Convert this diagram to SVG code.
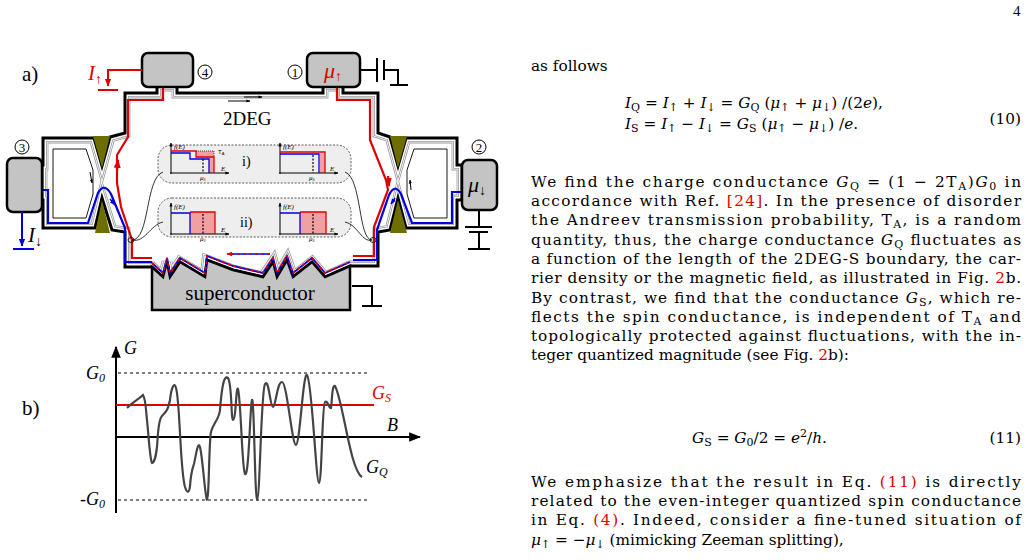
<svg xmlns="http://www.w3.org/2000/svg" width="1030" height="560" viewBox="0 0 1030 560">
<style>
.t{font-family:"Liberation Serif",serif;fill:#000}
.c{font-family:"DejaVu Serif","Liberation Serif",serif;font-size:15.3px;fill:#000}
.it{font-style:italic}
.r{fill:#e00000}
.box{fill:#c4c4c4;stroke:#000;stroke-width:2.5}
.gate{fill:#6e6e00}
.ins{fill:#eeeeee;stroke:#333;stroke-width:0.8;stroke-dasharray:2 1.5}
.ax{stroke:#000;stroke-width:1;fill:none}
.sm{font-family:"Liberation Serif",serif;font-size:7px;font-style:italic}
</style>
<defs>
<marker id="ah" viewBox="0 0 10 10" refX="9" refY="5" markerWidth="6" markerHeight="6" orient="auto"><path d="M0,1 L10,5 L0,9 z" fill="#000"/></marker>
<marker id="ahs" viewBox="0 0 10 10" refX="9" refY="5" markerWidth="4" markerHeight="4" orient="auto"><path d="M0,1 L10,5 L0,9 z" fill="#000"/></marker>
<marker id="ahr" viewBox="0 0 10 10" refX="9" refY="5" markerWidth="4" markerHeight="4" orient="auto"><path d="M0,1 L10,5 L0,9 z" fill="#e00000"/></marker>
<marker id="ahb" viewBox="0 0 10 10" refX="9" refY="5" markerWidth="4" markerHeight="4" orient="auto"><path d="M0,1 L10,5 L0,9 z" fill="#0000e0"/></marker>
<path id="reg" d="M125,93 H157 V86 H177 V93 H323 V86 H343 V93 H378 V133 L390,137 L398,166 L406,138 H457 V165 H462 V200 H457 V228 H406 L398,198 L390,230 L378,232 V266 H350 L325,277 L312,262 L293,277 L287,260 L277,277 L273,262 L263,277 L233,270 L207,260 L205,277 L180,262 L170,277 L167,262 L163,277 L152,267 H125 V232 L112,230 L102,198 L95,228 H43 V200 H42 V165 H43 V138 H94 L102,166 L110,137 L125,133 Z"/>
<path id="holes" d="M53,149 H86 L93,170 V194 L86,218 H53 Z M447,149 H414 L407,170 V194 L414,218 H447 Z"/>
<clipPath id="cl"><use href="#reg"/></clipPath>
</defs>
<text class="t" x="1013" y="16" font-size="15">4</text>

<g id="panelA">
<text class="t" x="22" y="81" font-size="21">a)</text>
<g id="twodeg">
<use href="#reg" fill="#fff"/>
<g clip-path="url(#cl)" fill="none">
<use href="#reg" stroke="#999" stroke-width="10.8"/>
<use href="#reg" stroke="#fff" stroke-width="9.2"/>
<use href="#reg" stroke="#999" stroke-width="7.6"/>
<use href="#reg" stroke="#fff" stroke-width="6"/>
</g>
<use href="#holes" fill="#fff" stroke="#000" stroke-width="0.9"/>
<use href="#reg" fill="none" stroke="#000" stroke-width="3"/>
<text class="t" x="223" y="125" font-size="19">2DEG</text>
</g>
<g id="superconductor">
<path class="box" d="M152,267 L163,277 L167,262 L170,277 L180,262 L205,277 L207,260 L233,270 L263,277 L273,262 L277,277 L287,260 L293,277 L312,262 L325,277 L350,266 V310 H152 Z"/>
<text class="t" x="250" y="300" font-size="21" text-anchor="middle">superconductor</text>
<path d="M352,286 H372 V306 M362,306 H382" stroke="#000" stroke-width="2" fill="none"/>
</g>
<g id="gates">
<polygon class="gate" points="93,136 110,136 102,168"/>
<polygon class="gate" points="95,233 110,233 102,200"/>
<polygon class="gate" points="390,136 407,136 398,168"/>
<polygon class="gate" points="390,233 407,233 398,200"/>
</g>
<g id="channels" fill="none" stroke-width="2.2">
<path d="M163,87 V100 H128 V137 L117,155 V183 L121,207 L132,240 V258 H152" stroke="#e00000"/>
<path d="M337,87 V100 H370 V140 L386,180 L388,190 L374,227 V256 H353" stroke="#e00000"/>
<path d="M42,190 H48 V223 H88 L98,193 Q104,182 111,194 L125,228 V262 H152" stroke="#0000e0"/>
<path d="M462,192 H452 V223 H412 L401,194 Q395,183 389,195 L377,230 V260 H353" stroke="#0000e0"/>
<path d="M117,170 L118,160" stroke="#e00000" marker-end="url(#ahr)"/>
<path d="M388,176 L389,186" stroke="#e00000" marker-end="url(#ahr)"/>
<path d="M110,199 L115,205" stroke="#0000e0" stroke-width="1.5" marker-end="url(#ahb)"/>
<path d="M395,198 L391,204" stroke="#0000e0" stroke-width="1.5" marker-end="url(#ahb)"/>
<path d="M152,263 L163,273 L167,258 L170,273 L180,258 L205,273 L207,256 L233,266 L263,273 L273,258 L277,273 L287,256 L293,273 L312,258 L325,273 L350,262" stroke="#0000e0" stroke-width="1.8"/>
<path d="M152,263 L163,273 L167,258 L170,273 L180,258 L205,273 L207,256 L233,266 L263,273 L273,258 L277,273 L287,256 L293,273 L312,258 L325,273 L350,262" stroke="#e00000" stroke-width="1.8" stroke-dasharray="3 3"/>
<path d="M270,254 H228" stroke="#0000e0" stroke-width="1.5"/>
<path d="M270,254 H227" stroke="#e00000" stroke-width="1.5" stroke-dasharray="3 3" marker-end="url(#ahr)"/>
</g>
<g id="smallarrows" stroke="#000" stroke-width="1" fill="none">
<path d="M228,101 H250" marker-end="url(#ahs)"/>
<path d="M244,97 H262" marker-end="url(#ahs)"/>
<path d="M90,172 L92,183" marker-end="url(#ahs)"/>
<path d="M411,190 L410,180" marker-end="url(#ahs)"/>
</g>
<g id="box4"><rect class="box" x="142" y="53" width="51" height="34" rx="6"/>
<circle cx="205" cy="72" r="7" fill="none" stroke="#000" stroke-width="1"/><text class="t" x="205" y="77" font-size="13" text-anchor="middle">4</text></g>
<g id="box1"><rect class="box" x="307" y="53" width="53" height="34" rx="6"/>
<circle cx="295" cy="72" r="7" fill="none" stroke="#000" stroke-width="1"/><text class="t" x="295" y="77" font-size="13" text-anchor="middle">1</text>
<text class="t it r" x="324" y="78" font-size="22">μ<tspan font-size="14" font-style="normal" dy="3">↑</tspan></text>
<path d="M360,70 H377 M377,58 V82 M384,60 V80 M384,70 H398 V85 M390,85 H408" stroke="#000" stroke-width="2" fill="none"/></g>
<g id="box3"><rect class="box" x="7" y="158" width="35" height="54" rx="6"/>
<circle cx="22" cy="147" r="7" fill="none" stroke="#000" stroke-width="1"/><text class="t" x="22" y="152" font-size="13" text-anchor="middle">3</text>
<path d="M22,212 V246" stroke="#0000e0" stroke-width="2" marker-end="url(#ahb)"/>
<path d="M13,249 H34" stroke="#0000e0" stroke-width="2"/>
<text class="t it" x="28" y="242" font-size="21" fill="#0000e0">I<tspan font-size="14" font-style="normal" dy="4">↓</tspan></text></g>
<g id="box2"><rect class="box" x="462" y="160" width="35" height="50" rx="6"/>
<circle cx="479" cy="147" r="7" fill="none" stroke="#000" stroke-width="1"/><text class="t" x="479" y="152" font-size="13" text-anchor="middle">2</text>
<text class="t it" x="468" y="192" font-size="22" fill="#0000e0">μ<tspan font-size="14" font-style="normal" dy="3">↓</tspan></text>
<path d="M479,210 V227 M465,227 H492 M469,232 H488 M479,232 V249 M468,249 H490" stroke="#000" stroke-width="2" fill="none"/></g>
<g id="Iup">
<path d="M142,70 H108 V86" stroke="#e00000" stroke-width="2" fill="none" marker-end="url(#ahr)"/>
<path d="M98,90 H118" stroke="#e00000" stroke-width="2"/>
<text class="t it r" x="88" y="80" font-size="21">I<tspan font-size="14" font-style="normal" dy="4">↑</tspan></text></g>
<g id="insets">
<rect class="ins" x="158" y="145" width="193" height="38" rx="14"/>
<rect class="ins" x="158" y="198" width="193" height="39" rx="14"/>
<text class="t" x="242" y="166" font-size="14">i)</text>
<text class="t" x="240" y="227" font-size="14">ii)</text>
<path d="M196,151 H214 V173 H209 V158 H196 Z" fill="#f0a0a0"/>
<path class="ax" d="M171,174 V143" marker-end="url(#ahs)"/><path class="ax" d="M170,173 H229" marker-end="url(#ahs)"/>
<path d="M171,151 H196 V157 H214 V173" stroke="#e00000" stroke-width="1.3" fill="none"/>
<path d="M171,153 H190 V159 H209 V173" stroke="#0000e0" stroke-width="1.3" fill="none"/>
<path d="M196,151 H214 V157" stroke="#000" stroke-width="0.7" stroke-dasharray="1 1" fill="none"/>
<path d="M203,159 V173" stroke="#000" stroke-width="1.2" stroke-dasharray="2 1.5"/>
<text class="sm" x="174" y="149">f(E)</text><text class="sm" x="221" y="171">E</text><text class="sm" x="200" y="180">μ<tspan font-size="4" dy="1">S</tspan></text>
<text font-family="Liberation Sans,sans-serif" font-size="6" x="218" y="154">T<tspan font-size="4" dy="1">A</tspan></text>
<path d="M320,153 H325 V173 H320 Z" fill="#f0a0a0"/>
<path class="ax" d="M280,174 V143" marker-end="url(#ahs)"/><path class="ax" d="M279,173 H338" marker-end="url(#ahs)"/>
<path d="M280,152 H325 V173" stroke="#e00000" stroke-width="1.3" fill="none"/>
<path d="M280,154 H319 V173" stroke="#0000e0" stroke-width="1.3" fill="none"/>
<path d="M313,155 V173" stroke="#000" stroke-width="1.2" stroke-dasharray="2 1.5"/>
<text class="sm" x="283" y="149">f(E)</text><text class="sm" x="330" y="171">E</text><text class="sm" x="309" y="180">μ<tspan font-size="4" dy="1">S</tspan></text>
<rect x="190" y="212" width="25" height="22" fill="#f0a0a0"/>
<path class="ax" d="M171,235 V203" marker-end="url(#ahs)"/><path class="ax" d="M170,234 H229" marker-end="url(#ahs)"/>
<path d="M190,212 H215 V234" stroke="#e00000" stroke-width="1.3" fill="none"/>
<path d="M171,213 H190 V234" stroke="#0000e0" stroke-width="1.3" fill="none"/>
<path d="M203,214 V234" stroke="#000" stroke-width="1.2" stroke-dasharray="2 1.5"/>
<text class="sm" x="174" y="209">f(E)</text><text class="sm" x="221" y="232">E</text><text class="sm" x="200" y="241">μ<tspan font-size="4" dy="1">S</tspan></text>
<rect x="300" y="212" width="26" height="22" fill="#f0a0a0"/>
<path class="ax" d="M280,235 V203" marker-end="url(#ahs)"/><path class="ax" d="M279,234 H338" marker-end="url(#ahs)"/>
<path d="M300,212 H326 V234" stroke="#e00000" stroke-width="1.3" fill="none"/>
<path d="M280,213 H300 V234" stroke="#0000e0" stroke-width="1.3" fill="none"/>
<path d="M313,214 V234" stroke="#000" stroke-width="1.2" stroke-dasharray="2 1.5"/>
<text class="sm" x="283" y="209">f(E)</text><text class="sm" x="330" y="232">E</text><text class="sm" x="309" y="241">μ<tspan font-size="4" dy="1">S</tspan></text>
</g>
<g id="leaders" fill="none" stroke="#000" stroke-width="0.8">
<path d="M163,172 C145,178 150,240 132,240"/>
<path d="M163,222 C150,225 145,243 132,240"/>
<ellipse cx="131" cy="240" rx="3" ry="2.5"/>
<path d="M345,172 C362,178 358,240 372,240"/>
<path d="M345,222 C358,225 362,243 372,240"/>
<ellipse cx="373" cy="240" rx="3" ry="2.5"/>
</g>
</g>

<g id="panelB">
<text class="t" x="22" y="415" font-size="21">b)</text>
<path d="M116,513 V347" stroke="#000" stroke-width="2" marker-end="url(#ah)"/>
<path d="M116,437 H420" stroke="#000" stroke-width="2" marker-end="url(#ah)"/>
<path d="M118,373 H370 M118,500 H370" stroke="#000" stroke-width="1" stroke-dasharray="3 3"/>
<path d="M116,405 H374" stroke="#e00000" stroke-width="2"/>
<path d="M127,408 C132,403 140,398 143,395 C146,400 146,412 147,420 C149,440 150,460 152,463 C155,462 156,455 157,447 C158,435 158,420 162,416 C166,412 168,410 170,400 C171,390 174,380 176,388 C180,400 180,470 185,487 C187,493 189,494 190,486 C191,472 192,470 194,464 C196,455 198,440 200,447 C203,460 205,497 207,500 C209,500 209,440 211,432 C213,423 219,420 220,410 C222,385 224,375 228,378 C232,383 231,420 233,420 C236,420 236,385 238,389 C241,400 242,470 245,474 C249,478 250,405 252,400 C254,395 255,500 257,500 C260,500 261,390 265,384 C269,378 270,407 273,407 C276,406 277,382 282,382 C287,382 292,445 296,445 C300,444 303,372 307,375 C312,380 316,483 319,483 C322,482 322,404 325,402 C328,400 329,409 331,408 C332,402 332,384 335,386 C343,400 350,470 362,477" fill="none" stroke="#444" stroke-width="2.2"/>
<text class="t it" x="124" y="354" font-size="18">G</text>
<text class="t it" x="86" y="379" font-size="18">G<tspan font-size="12" dy="3">0</tspan></text>
<text class="t it" x="80" y="505" font-size="18"><tspan font-style="normal">-</tspan>G<tspan font-size="12" dy="3">0</tspan></text>
<text class="t it r" x="372" y="399" font-size="18">G<tspan font-size="12" dy="3">S</tspan></text>
<text class="t it" x="387" y="431" font-size="18">B</text>
<text class="t it" x="366" y="473" font-size="18" fill="#555">G<tspan font-size="12" dy="3">Q</tspan></text>
</g>

<g id="textcol" class="c">
<text x="531" y="71">as follows</text>
<text x="625" y="108"><tspan class="it">I</tspan><tspan font-size="11" dy="3">Q</tspan><tspan dy="-3"> = </tspan><tspan class="it">I</tspan><tspan font-size="11" dy="3">↑</tspan><tspan dy="-3"> + </tspan><tspan class="it">I</tspan><tspan font-size="11" dy="3">↓</tspan><tspan dy="-3"> = </tspan><tspan class="it">G</tspan><tspan font-size="11" dy="3">Q</tspan><tspan dy="-3"> (</tspan><tspan class="it">μ</tspan><tspan font-size="11" dy="3">↑</tspan><tspan dy="-3"> + </tspan><tspan class="it">μ</tspan><tspan font-size="11" dy="3">↓</tspan><tspan dy="-3">) /(2</tspan><tspan class="it">e</tspan>),</text>
<text x="625" y="129"><tspan class="it">I</tspan><tspan font-size="11" dy="3">S</tspan><tspan dy="-3"> = </tspan><tspan class="it">I</tspan><tspan font-size="11" dy="3">↑</tspan><tspan dy="-3"> − </tspan><tspan class="it">I</tspan><tspan font-size="11" dy="3">↓</tspan><tspan dy="-3"> = </tspan><tspan class="it">G</tspan><tspan font-size="11" dy="3">S</tspan><tspan dy="-3"> (</tspan><tspan class="it">μ</tspan><tspan font-size="11" dy="3">↑</tspan><tspan dy="-3"> − </tspan><tspan class="it">μ</tspan><tspan font-size="11" dy="3">↓</tspan><tspan dy="-3">) /</tspan><tspan class="it">e</tspan>.</text>
<text x="1021" y="124" text-anchor="end">(10)</text>
<text x="531" y="187" textLength="490" lengthAdjust="spacing">We find the charge conductance <tspan class="it">G</tspan><tspan font-size="11" dy="3">Q</tspan><tspan dy="-3"> = (1 − 2T</tspan><tspan font-size="11" dy="3">A</tspan><tspan dy="-3">)</tspan><tspan class="it">G</tspan><tspan font-size="11" dy="3">0</tspan><tspan dy="-3"> in</tspan></text>
<text x="531" y="206" textLength="490" lengthAdjust="spacing">accordance with Ref. <tspan class="r">[24]</tspan>. In the presence of disorder</text>
<text x="531" y="225" textLength="490" lengthAdjust="spacing">the Andreev transmission probability, T<tspan font-size="11" dy="3">A</tspan><tspan dy="-3">, is a random</tspan></text>
<text x="531" y="245" textLength="490" lengthAdjust="spacing">quantity, thus, the charge conductance <tspan class="it">G</tspan><tspan font-size="11" dy="3">Q</tspan><tspan dy="-3"> fluctuates as</tspan></text>
<text x="531" y="264" textLength="490" lengthAdjust="spacing">a function of the length of the 2DEG-S boundary, the car-</text>
<text x="531" y="283" textLength="490" lengthAdjust="spacing">rier density or the magnetic field, as illustrated in Fig. <tspan class="r">2</tspan>b.</text>
<text x="531" y="303" textLength="490" lengthAdjust="spacing">By contrast, we find that the conductance <tspan class="it">G</tspan><tspan font-size="11" dy="3">S</tspan><tspan dy="-3">, which re-</tspan></text>
<text x="531" y="322" textLength="490" lengthAdjust="spacing">flects the spin conductance, is independent of T<tspan font-size="11" dy="3">A</tspan><tspan dy="-3"> and</tspan></text>
<text x="531" y="341" textLength="490" lengthAdjust="spacing">topologically protected against fluctuations, with the in-</text>
<text x="531" y="360">teger quantized magnitude (see Fig. <tspan class="r">2</tspan>b):</text>
<text x="692" y="443"><tspan class="it">G</tspan><tspan font-size="11" dy="3">S</tspan><tspan dy="-3"> = </tspan><tspan class="it">G</tspan><tspan font-size="11" dy="3">0</tspan><tspan dy="-3">/2 = </tspan><tspan class="it">e</tspan><tspan font-size="11" dy="-6">2</tspan><tspan dy="6">/</tspan><tspan class="it">h</tspan>.</text>
<text x="1021" y="443" text-anchor="end">(11)</text>
<text x="531" y="487" textLength="490" lengthAdjust="spacing">We emphasize that the result in Eq. <tspan class="r">(11)</tspan> is directly</text>
<text x="531" y="506" textLength="490" lengthAdjust="spacing">related to the even-integer quantized spin conductance</text>
<text x="531" y="525" textLength="490" lengthAdjust="spacing">in Eq. <tspan class="r">(4)</tspan>. Indeed, consider a fine-tuned situation of</text>
<text x="531" y="545"><tspan class="it">μ</tspan><tspan font-size="11" dy="3">↑</tspan><tspan dy="-3"> = −</tspan><tspan class="it">μ</tspan><tspan font-size="11" dy="3">↓</tspan><tspan dy="-3"> (mimicking Zeeman splitting),</tspan></text>
</g>
</svg>
